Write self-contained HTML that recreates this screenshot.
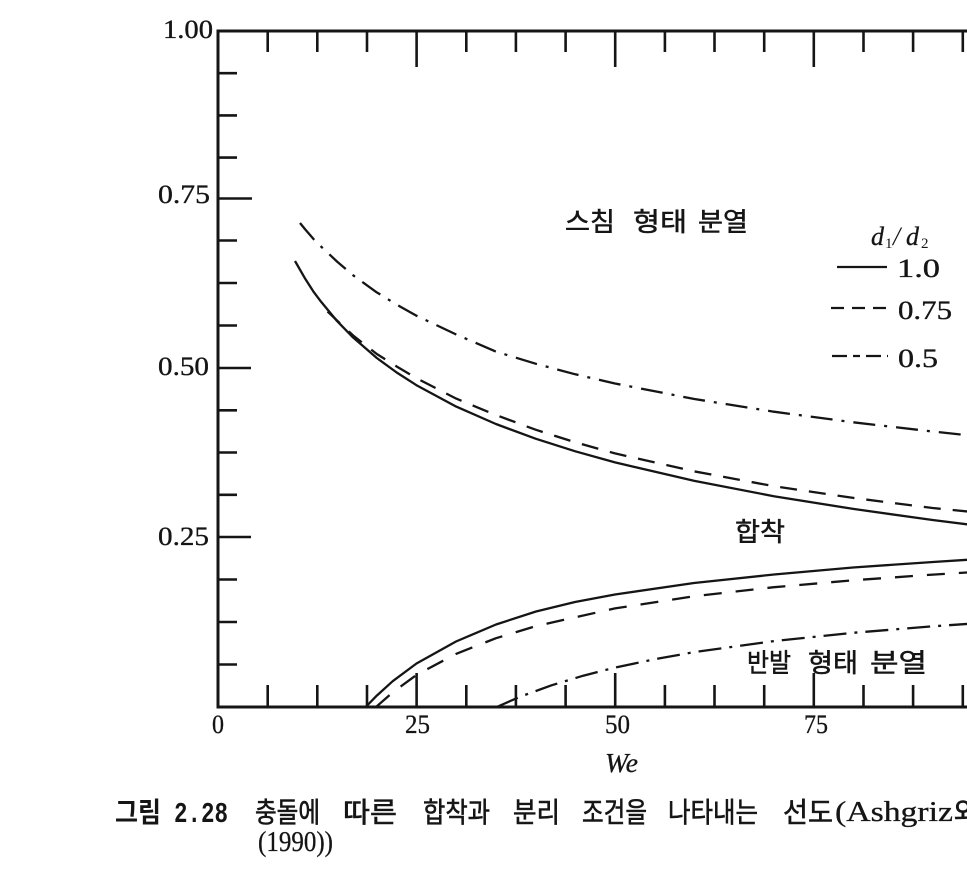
<!DOCTYPE html>
<html>
<head>
<meta charset="utf-8">
<style>
html,body{margin:0;padding:0;background:#fff;}
svg{display:block;}
.ko{font-family:"Liberation Sans","Noto Sans CJK KR",sans-serif;}
.num{font-family:"Liberation Serif",serif;}
</style>
</head>
<body>
<svg width="967" height="871" viewBox="0 0 967 871" xmlns="http://www.w3.org/2000/svg">
<rect width="967" height="871" fill="#fff"/>

<!-- frame -->
<g stroke="#151515" stroke-width="3" fill="none" stroke-linecap="square">
  <line x1="218" y1="31" x2="967" y2="31"/>
  <line x1="218" y1="31" x2="218" y2="707"/>
  <line x1="218" y1="707" x2="967" y2="707"/>
</g>

<!-- top ticks -->
<g stroke="#151515" stroke-width="2.6">
  <line x1="267.7" y1="31" x2="267.7" y2="52"/>
  <line x1="317.3" y1="31" x2="317.3" y2="52"/>
  <line x1="367" y1="31" x2="367" y2="52"/>
  <line x1="416.6" y1="31" x2="416.6" y2="67"/>
  <line x1="466.3" y1="31" x2="466.3" y2="52"/>
  <line x1="515.9" y1="31" x2="515.9" y2="52"/>
  <line x1="565.6" y1="31" x2="565.6" y2="52"/>
  <line x1="615.2" y1="31" x2="615.2" y2="67"/>
  <line x1="664.9" y1="31" x2="664.9" y2="52"/>
  <line x1="714.5" y1="31" x2="714.5" y2="52"/>
  <line x1="764.2" y1="31" x2="764.2" y2="52"/>
  <line x1="813.8" y1="31" x2="813.8" y2="67"/>
  <line x1="863.5" y1="31" x2="863.5" y2="52"/>
  <line x1="913.1" y1="31" x2="913.1" y2="52"/>
  <line x1="962.8" y1="31" x2="962.8" y2="52"/>
</g>
<!-- bottom ticks -->
<g stroke="#151515" stroke-width="2.6">
  <line x1="267.7" y1="707" x2="267.7" y2="685"/>
  <line x1="317.3" y1="707" x2="317.3" y2="685"/>
  <line x1="367" y1="707" x2="367" y2="685"/>
  <line x1="416.6" y1="707" x2="416.6" y2="673"/>
  <line x1="466.3" y1="707" x2="466.3" y2="685"/>
  <line x1="515.9" y1="707" x2="515.9" y2="685"/>
  <line x1="565.6" y1="707" x2="565.6" y2="685"/>
  <line x1="615.2" y1="707" x2="615.2" y2="673"/>
  <line x1="664.9" y1="707" x2="664.9" y2="685"/>
  <line x1="714.5" y1="707" x2="714.5" y2="685"/>
  <line x1="764.2" y1="707" x2="764.2" y2="685"/>
  <line x1="813.8" y1="707" x2="813.8" y2="673"/>
  <line x1="863.5" y1="707" x2="863.5" y2="685"/>
  <line x1="913.1" y1="707" x2="913.1" y2="685"/>
  <line x1="962.8" y1="707" x2="962.8" y2="685"/>
</g>
<!-- left ticks -->
<g stroke="#151515" stroke-width="2.6">
  <line x1="218" y1="73.2" x2="237" y2="73.2"/>
  <line x1="218" y1="115.4" x2="237" y2="115.4"/>
  <line x1="218" y1="157.6" x2="237" y2="157.6"/>
  <line x1="218" y1="198.5" x2="252" y2="198.5"/>
  <line x1="218" y1="240.5" x2="237" y2="240.5"/>
  <line x1="218" y1="283" x2="237" y2="283"/>
  <line x1="218" y1="325.5" x2="237" y2="325.5"/>
  <line x1="218" y1="368" x2="251" y2="368"/>
  <line x1="218" y1="410.3" x2="237" y2="410.3"/>
  <line x1="218" y1="452.5" x2="237" y2="452.5"/>
  <line x1="218" y1="494.8" x2="237" y2="494.8"/>
  <line x1="218" y1="537" x2="251" y2="537"/>
  <line x1="218" y1="579.5" x2="237" y2="579.5"/>
  <line x1="218" y1="622" x2="237" y2="622"/>
  <line x1="218" y1="664.5" x2="237" y2="664.5"/>
</g>

<!-- y labels -->
<g class="num" font-size="26" fill="#151515" stroke="#151515" stroke-width="0.35">
  <text x="163" y="38" textLength="50" lengthAdjust="spacingAndGlyphs">1.00</text>
  <text x="158" y="203" textLength="52" lengthAdjust="spacingAndGlyphs">0.75</text>
  <text x="158" y="375" textLength="51" lengthAdjust="spacingAndGlyphs">0.50</text>
  <text x="158" y="545" textLength="51" lengthAdjust="spacingAndGlyphs">0.25</text>
</g>
<!-- x labels -->
<g class="num" font-size="26" fill="#151515" stroke="#151515" stroke-width="0.3">
  <text x="212" y="733" textLength="12" lengthAdjust="spacingAndGlyphs">0</text>
  <text x="405" y="733" textLength="25" lengthAdjust="spacingAndGlyphs">25</text>
  <text x="605" y="733" textLength="25" lengthAdjust="spacingAndGlyphs">50</text>
  <text x="804" y="733" textLength="24" lengthAdjust="spacingAndGlyphs">75</text>
</g>
<text class="num" x="605" y="772" font-size="27" font-style="italic" fill="#151515" stroke="#151515" stroke-width="0.3" textLength="33" lengthAdjust="spacingAndGlyphs">We</text>

<!-- curves -->
<g fill="none" stroke="#151515" stroke-width="2.3" stroke-linejoin="round">
  <polyline points="295,261 305.3,278.9 313.3,291.4 321.2,301.9 337.1,321.1 353,337.4 376.8,358 396.7,372.5 416.5,385.2 456.2,406.6 495.9,424 535.6,438.7 575.3,451.3 615,462.4 694.4,480.9 773.8,496.2 853.2,508.9 932.6,520 972.3,525"/>
  <polyline stroke-dasharray="17 12" points="327.6,311.5 337.1,320.6 353,335.4 376.8,354 396.7,366.5 416.5,378.2 456.2,398.6 495.9,415 535.6,429.7 575.3,442.3 615,453.4 694.4,471.4 773.8,486.2 853.2,497.9 932.6,508 972.3,512"/>
  <polyline stroke-dasharray="22 9 3 9" points="300,223 305.3,229.5 313.3,238.8 321.2,246.7 337.1,261.6 353,275.2 376.8,292.4 396.7,304.6 416.5,315.7 456.2,334.5 495.9,351.6 535.6,363.7 575.3,374.3 615,383.5 694.4,399 773.8,411.7 853.2,422.3 932.6,431.5 972.3,435.7"/>

  <polyline points="365.7,707 376.8,695.6 392.7,681.2 416.5,663.5 456,641.5 496,624.5 536,611.5 575,602 615,594.5 694,583 774,574.5 853,567.5 933,562 972,559.5"/>
  <polyline stroke-dasharray="18 14" points="376,707 392.7,692.4 416.5,674.9 456,653.9 496,638.2 536,626.1 615,608.4 694,596.2 774,587.2 853,580.3 933,574.6 972,572.2"/>
  <polyline stroke-dasharray="23 8 3 8" points="496.7,707 519.7,696.9 551.5,685.3 583.2,675.7 615,667.6 654.7,659.2 694.4,652.1 773.8,641.1 853.2,632.8 932.6,626.3 972.3,623.6"/>
</g>

<!-- region labels -->
<g class="ko" font-size="26" fill="#151515" stroke="#151515" stroke-width="0.5">
  <text x="565" y="231" textLength="50" lengthAdjust="spacingAndGlyphs">스침</text>
  <text x="633" y="231" textLength="54" lengthAdjust="spacingAndGlyphs">형태</text>
  <text x="698" y="231" textLength="50" lengthAdjust="spacingAndGlyphs">분열</text>

  <text x="735" y="541" textLength="50" lengthAdjust="spacingAndGlyphs">합착</text>

  <text x="747" y="672" textLength="44" lengthAdjust="spacingAndGlyphs">반발</text>
  <text x="808" y="672" textLength="50" lengthAdjust="spacingAndGlyphs">형태</text>
  <text x="870" y="672" textLength="57" lengthAdjust="spacingAndGlyphs">분열</text>
</g>

<!-- legend -->
<g class="num" fill="#151515">
  <text x="871" y="245" font-size="26" font-style="italic" stroke="#151515" stroke-width="0.3">d</text>
  <text x="885" y="248" font-size="15">1</text>
  <text x="893" y="245" font-size="26" font-style="italic">/</text>
  <text x="906" y="245" font-size="26" font-style="italic" stroke="#151515" stroke-width="0.3">d</text>
  <text x="921" y="248" font-size="15">2</text>
</g>
<g class="num" fill="#151515" stroke="#151515" stroke-width="0.35" font-size="26">
  <text x="897" y="277" textLength="43" lengthAdjust="spacingAndGlyphs">1.0</text>
  <text x="898" y="319" textLength="54" lengthAdjust="spacingAndGlyphs">0.75</text>
  <text x="898" y="367" textLength="40" lengthAdjust="spacingAndGlyphs">0.5</text>
</g>
<g stroke="#151515" stroke-width="2.3" fill="none">
  <line x1="837" y1="267" x2="887" y2="267"/>
  <line x1="831" y1="308" x2="888" y2="308" stroke-dasharray="13 8"/>
  <line x1="832" y1="356" x2="888" y2="356" stroke-dasharray="15 6 7 6"/>
</g>

<!-- caption -->
<g fill="#151515">
  <text class="ko" x="115" y="822" font-size="28" font-weight="bold" textLength="46" lengthAdjust="spacingAndGlyphs">그림</text>
  <text x="174" y="822" font-size="29" font-weight="bold" font-family="'Liberation Mono',monospace" textLength="54" lengthAdjust="spacingAndGlyphs">2.28</text>
  <g class="ko" font-size="28" stroke="#151515" stroke-width="0.6">
    <text x="255" y="822" textLength="65" lengthAdjust="spacingAndGlyphs">충돌에</text>
    <text x="343" y="822" textLength="54" lengthAdjust="spacingAndGlyphs">따른</text>
    <text x="423" y="822" textLength="67" lengthAdjust="spacingAndGlyphs">합착과</text>
    <text x="513" y="822" textLength="47" lengthAdjust="spacingAndGlyphs">분리</text>
    <text x="582" y="822" textLength="65" lengthAdjust="spacingAndGlyphs">조건을</text>
    <text x="668" y="822" textLength="90" lengthAdjust="spacingAndGlyphs">나타내는</text>
    <text x="783" y="822" textLength="50" lengthAdjust="spacingAndGlyphs">선도</text>
    <text x="954" y="822">와</text>
  </g>
  <text class="num" x="835" y="821" font-size="28" stroke="#151515" stroke-width="0.3" textLength="118" lengthAdjust="spacingAndGlyphs">(Ashgriz</text>
  <text class="num" x="258" y="851" font-size="28" stroke="#151515" stroke-width="0.3" textLength="75" lengthAdjust="spacingAndGlyphs">(1990))</text>
</g>
</svg>
</body>
</html>
